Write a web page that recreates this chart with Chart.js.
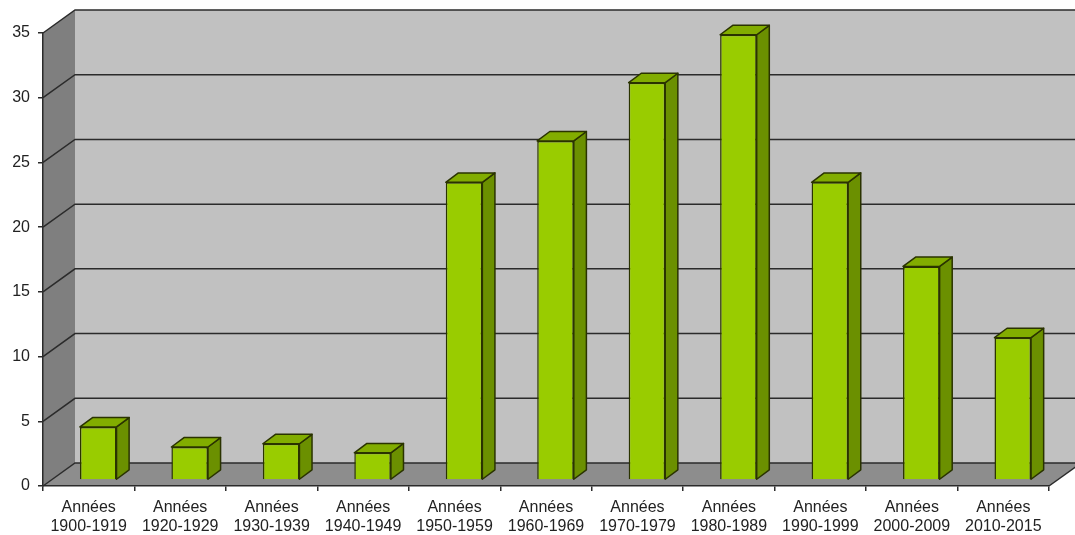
<!DOCTYPE html>
<html>
<head>
<meta charset="utf-8">
<script src="https://cdn.jsdelivr.net/npm/chart.js@4/dist/chart.umd.min.js"></script>
<style>
  html, body { margin: 0; padding: 0; background: #ffffff; }
  #decades { display: block; }
</style>
</head>
<body>
<canvas id="decades" width="1075" height="535"></canvas>
<script>

// ---------------------------------------------------------------
//  data
// ---------------------------------------------------------------

const periodLabels = [
    ['Années', '1900-1919'],
    ['Années', '1920-1929'],
    ['Années', '1930-1939'],
    ['Années', '1940-1949'],
    ['Années', '1950-1959'],
    ['Années', '1960-1969'],
    ['Années', '1970-1979'],
    ['Années', '1980-1989'],
    ['Années', '1990-1999'],
    ['Années', '2000-2009'],
    ['Années', '2010-2015']
];

const periodValues = [4.1, 2.55, 2.8, 2.1, 23.0, 26.2, 30.7, 34.4, 23.0, 16.5, 11.0];

const yTicks = [0, 5, 10, 15, 20, 25, 30, 35];

// ---------------------------------------------------------------
//  3d look : walls, floor, bar depth
// ---------------------------------------------------------------

const WALL_DX = 32;     // depth of the box, horizontal part
const WALL_DY = 23;     // depth of the box, vertical part
const BAR_SHIFT_X = 9.5;
const BAR_SHIFT_Y = -6;
const BAR_DX = 12.6;
const BAR_DY = 9.4;

const EDGE = '#2b2b2b';
const BAR_EDGE = '#2a3300';

const box3d = {
    id: 'box3d',

    beforeDraw(chart) {
        const ctx = chart.ctx;
        const yScale = chart.scales.y;
        const area = chart.chartArea;
        const W = chart.width;

        const left = area.left, right = area.right;
        const top = yScale.getPixelForValue(35);
        const bottom = yScale.getPixelForValue(0);

        ctx.save();

        // back wall
        ctx.fillStyle = '#c1c1c1';
        ctx.fillRect(left + WALL_DX, top - WALL_DY, W - left - WALL_DX, bottom - top);

        // left wall
        ctx.fillStyle = '#7f7f7f';
        ctx.beginPath();
        ctx.moveTo(left, top);
        ctx.lineTo(left + WALL_DX, top - WALL_DY);
        ctx.lineTo(left + WALL_DX, bottom - WALL_DY);
        ctx.lineTo(left, bottom);
        ctx.closePath();
        ctx.fill();

        // floor
        ctx.fillStyle = '#8d8d8d';
        ctx.beginPath();
        ctx.moveTo(left, bottom);
        ctx.lineTo(left + WALL_DX, bottom - WALL_DY);
        ctx.lineTo(right + WALL_DX, bottom - WALL_DY);
        ctx.lineTo(right, bottom);
        ctx.closePath();
        ctx.fill();

        // grid lines on back wall + diagonals on left wall
        ctx.strokeStyle = EDGE;
        ctx.lineWidth = 1.5;
        yTicks.forEach(v => {
            const y = yScale.getPixelForValue(v);
            ctx.beginPath();
            ctx.moveTo(left, y);
            ctx.lineTo(left + WALL_DX, y - WALL_DY);
            ctx.lineTo(W, y - WALL_DY);
            ctx.stroke();
        });

        // right edge of the floor
        ctx.beginPath();
        ctx.moveTo(right, bottom);
        ctx.lineTo(right + WALL_DX, bottom - WALL_DY);
        ctx.stroke();

        ctx.restore();
    },

    beforeDatasetsDraw(chart) {
        chart.ctx.save();
        chart.ctx.translate(BAR_SHIFT_X, BAR_SHIFT_Y);
    },

    afterDatasetsDraw(chart) {
        const ctx = chart.ctx;
        const meta = chart.getDatasetMeta(0);

        ctx.lineWidth = 1.5;
        ctx.strokeStyle = BAR_EDGE;
        ctx.lineJoin = 'round';

        meta.data.forEach(bar => {
            const p = bar.getProps(['x', 'y', 'base', 'width'], true);
            const l = p.x - p.width / 2;
            const r = p.x + p.width / 2;
            const t = p.y;
            const b = p.base;

            // side face
            ctx.fillStyle = '#6b9000';
            ctx.beginPath();
            ctx.moveTo(r, t);
            ctx.lineTo(r + BAR_DX, t - BAR_DY);
            ctx.lineTo(r + BAR_DX, b - BAR_DY);
            ctx.lineTo(r, b);
            ctx.closePath();
            ctx.fill();
            ctx.stroke();

            // top face
            ctx.fillStyle = '#82ad00';
            ctx.beginPath();
            ctx.moveTo(l, t);
            ctx.lineTo(l + BAR_DX, t - BAR_DY);
            ctx.lineTo(r + BAR_DX, t - BAR_DY);
            ctx.lineTo(r, t);
            ctx.closePath();
            ctx.fill();
            ctx.stroke();
        });

        ctx.restore();
    }
};

// ---------------------------------------------------------------
//  chart
// ---------------------------------------------------------------

const ctx = document.getElementById('decades').getContext('2d');

const chartData = {
    labels: periodLabels,
    datasets: [{
        label: 'Années',
        data: periodValues,
        backgroundColor: '#99cc00',
        borderColor: BAR_EDGE,
        borderWidth: 1.5,
        categoryPercentage: 1,
        barPercentage: 0.4
    }]
};

const options = {
    responsive: false,
    animation: false,
    layout: {
        padding: { top: 33, right: 26, left: 0, bottom: 0 }
    },
    plugins: {
        legend: { display: false },
        tooltip: { enabled: false }
    },
    scales: {
        x: {
            offset: true,
            grid: {
                offset: true,
                drawOnChartArea: false,
                drawTicks: true,
                tickLength: 5,
                color: EDGE,
                lineWidth: 1.5
            },
            border: { display: true, color: EDGE, width: 1.5 },
            ticks: {
                autoSkip: false,
                maxRotation: 0,
                padding: 7,
                color: '#222222',
                font: { family: 'Liberation Sans', size: 16, lineHeight: 1.2 }
            },
            afterFit(scale) { scale.height = 49; }
        },
        y: {
            min: 0,
            max: 35,
            ticks: {
                stepSize: 5,
                padding: 8,
                color: '#222222',
                font: { family: 'Liberation Sans', size: 16 }
            },
            grid: {
                drawOnChartArea: false,
                drawTicks: true,
                tickLength: 5,
                color: EDGE,
                lineWidth: 1.5
            },
            border: { display: true, color: EDGE, width: 1.5 },
            afterFit(scale) { scale.width = 43; }
        }
    }
};

window.decadesChart = new Chart(ctx, {
    type: 'bar',
    data: chartData,
    options: options,
    plugins: [box3d]
});

</script>
</body>
</html>
